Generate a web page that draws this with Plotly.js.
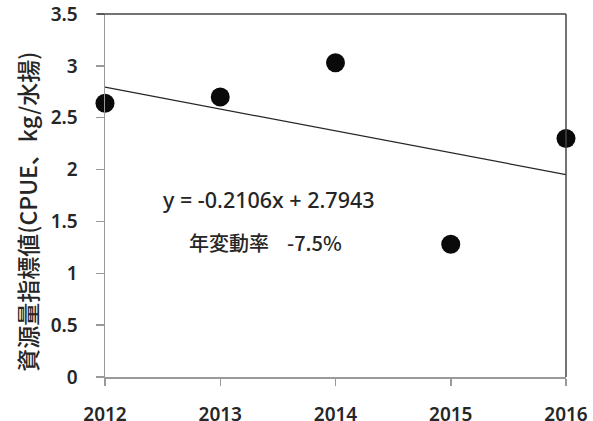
<!DOCTYPE html>
<html>
<head>
<meta charset="utf-8">
<script src="https://cdn.plot.ly/plotly-3.0.1.min.js"></script>
<style>
  html, body { margin: 0; padding: 0; background: #fff; }
  #chart { width: 593px; height: 421px; }
</style>
</head>
<body>
<div id="chart"></div>
<script>
// Yearly CPUE index
const years = [2012, 2013, 2014, 2015, 2016];
const cpue = [2.64, 2.70, 3.03, 1.28, 2.30];
const yTicks = [0, 0.5, 1, 1.5, 2, 2.5, 3, 3.5];

// Linear trend (x = years since 2012)
const slope = -0.2106;
const intercept = 2.7943;
const annualChange = '-7.5%';

const trendX = [years[0], years[years.length - 1]];
const trendY = trendX.map(yr => slope * (yr - years[0]) + intercept);

const fontFamily = '"Noto Sans", "Noto Sans CJK JP", sans-serif';
const cjkFamily = '"Noto Sans CJK JP", "Noto Sans", sans-serif';
const textColor = '#262626';

const data = [
  {
    x: trendX, y: trendY, type: 'scatter', mode: 'lines',
    line: { color: '#262626', width: 1.3 },
    hoverinfo: 'skip', cliponaxis: false
  },
  {
    x: years, y: cpue, type: 'scatter', mode: 'markers',
    marker: { color: '#0a0a0a', size: 19 },
    cliponaxis: false
  }
];

const layout = {
  width: 593, height: 421,
  margin: { l: 105, r: 27, t: 14, b: 44 },
  paper_bgcolor: '#fff', plot_bgcolor: '#fff',
  showlegend: false,
  font: { family: fontFamily, color: textColor, size: 19, weight: 600 },
  xaxis: {
    range: [2012, 2016], tickvals: years, ticktext: years.map(String),
    showgrid: false, zeroline: false,
    showline: true, linecolor: '#999', linewidth: 1.5,
    ticks: 'outside', ticklen: 7, tickcolor: '#999', tickwidth: 1.5,
    ticklabelstandoff: 13,
    tickfont: { size: 19, color: textColor, family: fontFamily, weight: 600 }
  },
  yaxis: {
    range: [0, 3.5], tickvals: yTicks,
    ticktext: yTicks.map(String),
    showgrid: false, zeroline: false,
    showline: true, linecolor: '#999', linewidth: 1.5,
    ticks: 'outside', ticklen: 8, tickcolor: '#999', tickwidth: 1.5,
    ticklabelstandoff: 14,
    tickfont: { size: 19, color: textColor, family: fontFamily, weight: 600 }
  },
  shapes: [
    { type: 'line', xref: 'paper', yref: 'paper', x0: -0.017, x1: 1, y0: 1, y1: 1,
      line: { color: '#444', width: 1.5 } },
    { type: 'line', xref: 'paper', yref: 'paper', x0: 1, x1: 1, y0: 0, y1: 1,
      line: { color: '#444', width: 1.5 } }
  ],
  annotations: [
    // y-axis title, set a little below the plot's midline
    { xref: 'paper', yref: 'paper', x: -0.168, y: 0.454, xanchor: 'center', yanchor: 'middle',
      textangle: -90, showarrow: false,
      text: '資源量指標値(CPUE、kg/水揚)',
      font: { size: 23, color: textColor, family: cjkFamily, weight: 500 } },
    { xref: 'x', yref: 'y', x: 2013.42, y: 1.71, showarrow: false,
      text: 'y = -0.2106x + 2.7943',
      font: { size: 21.5, color: textColor, family: fontFamily, weight: 500 } },
    { xref: 'x', yref: 'y', x: 2013.39, y: 1.30, showarrow: false,
      text: '年変動率&nbsp;&nbsp;&nbsp;&nbsp;' + annualChange,
      font: { size: 20, color: textColor, family: cjkFamily, weight: 500 } }
  ]
};

Plotly.newPlot('chart', data, layout, { displayModeBar: false, staticPlot: true });
</script>
</body>
</html>
